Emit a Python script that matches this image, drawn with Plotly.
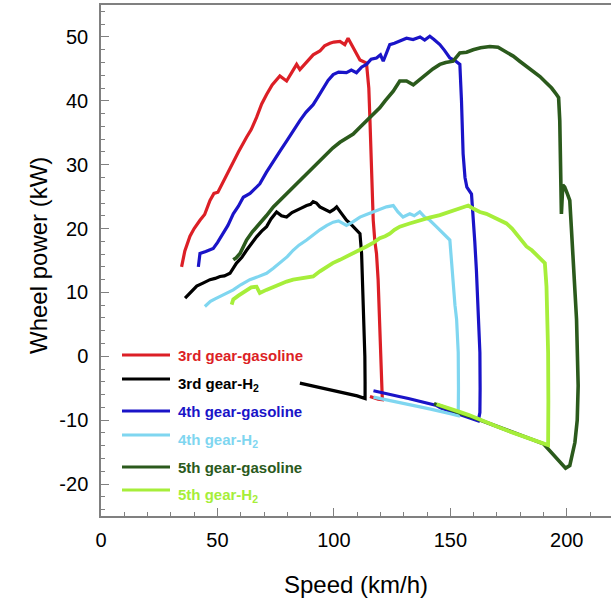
import plotly.graph_objects as go

# ---------------- data ----------------
red_speed = [34.6, 36, 38.2, 40, 42.5, 44.5, 46.8, 48.5, 50.2, 52, 54.6, 56.8, 59, 62.5, 64.5, 66.8, 69, 71.1, 73.5, 76.8,
             79.7, 82, 84.0, 85.4, 88, 91.1, 94, 96, 98.3, 100, 102.6, 104.7, 106.1, 108, 110, 111.2, 114.0, 115.0, 115.5,
             116.2, 116.9, 117.6, 118.3, 119.0, 119.6, 120.2, 120.6, 120.8, 119.0, 117.0, 115.5]
red_power = [14.0, 16.5, 18.8, 20, 21.3, 22.2, 24.4, 25.5, 25.7, 27, 28.8, 30.6, 32, 34.3, 35.5, 37.4, 39.5, 41.0, 42.5, 43.9,
             43.1, 44.5, 45.7, 44.9, 46, 47.2, 47.8, 48.6, 49.0, 49.2, 49.3, 48.8, 49.8, 48.5, 47, 46.4, 45.9, 42, 36.9,
             28, 21.3, 18, 16.1, 12, 6.3, 0, -4, -6.8, -6.7, -6.5, -6.3]

blk_speed = [36.1, 38.5, 41.1, 44, 46.8, 49, 51.1, 53, 55.4, 58.2, 60.5, 62.5, 64.5, 66.8, 69, 71.1, 73, 75.4, 77.5, 79.7,
             82, 84.0, 86, 88.3, 90, 91.1, 92.5, 94.0, 96, 98.3, 100, 101.2, 103, 105.4, 107, 108.3, 110, 111.2, 111.9,
             112.3, 112.6, 113.0, 113.3, 113.4, 113.4, 110, 105, 100, 95, 90, 85.4]
blk_power = [9.1, 10.0, 11.0, 11.5, 12.0, 12.2, 12.5, 12.6, 13.0, 14.6, 15.5, 16.6, 17.6, 18.7, 19.6, 20.3, 21.5, 22.6, 22.0,
             21.8, 22.5, 22.9, 23.2, 23.6, 23.8, 24.2, 24.0, 23.4, 23.0, 22.6, 23.0, 23.4, 22.5, 21.3, 20.8, 20.3, 19.6,
             19.2, 16.1, 12, 8.3, 5.8, 0, -4, -6.6, -6.2, -5.8, -5.3, -4.9, -4.5, -4.2]

blue_speed = [41.8, 42.5, 45, 48.2, 50, 52.5, 54.5, 56.8, 59, 61.1, 64, 66, 68.2, 71, 74.0, 77, 79.7, 82.5, 85.4, 88, 91.1,
              93, 95.4, 97.5, 99.7, 102, 105.4, 107.5, 109.7, 112, 114.0, 116, 118.3, 120, 121.2, 122.6, 124.0, 126,
              128.3, 131.2, 134, 137, 139, 141.2, 143, 145.5, 147.5, 149.8, 152, 154.1, 154.8, 155.5, 156.3, 157.1,
              159.1, 159.8, 160.5, 161.2, 161.8, 162.3, 162.7, 162.8, 162.7, 162, 158, 154, 150, 146, 144.1, 140, 136,
              132, 128, 124, 120, 117]
blue_power = [14.0, 16.1, 16.4, 16.9, 17.8, 19.2, 20.5, 22.3, 23.5, 24.9, 25.5, 26.2, 27.0, 28.8, 30.6, 32.2, 33.7, 35.3,
              36.9, 38.2, 39.4, 40.5, 42.0, 43.2, 44.1, 44.5, 44.4, 44.8, 44.4, 45.3, 45.7, 46.5, 46.7, 47.2, 46.2, 47.5,
              48.8, 49.0, 49.3, 49.8, 49.6, 50.0, 49.5, 50.1, 49.6, 48.8, 47.9, 46.7, 46.3, 45.7, 40, 31.7, 28, 26.5,
              25.4, 22, 18, 13.5, 9, 5, 0.6, -5, -8.8, -10.1, -9.6, -9.2, -8.7, -8.1, -7.7, -7.3, -6.9, -6.6, -6.3, -6.0,
              -5.7, -5.4]

lblue_speed = [44.6, 47, 49, 51.1, 54, 56.8, 60, 63.9, 67, 71.1, 74, 76.8, 80, 82.5, 85, 88.3, 91, 94.0, 97, 99.7, 102,
               105.4, 108, 111.2, 114, 116.9, 119.7, 122.6, 125.5, 127.5, 129.7, 132.6, 134.5, 136.9, 139, 141.2, 144,
               146.9, 149.8, 150.6, 151.2, 152.0, 152.7, 153.4, 153.5, 153.4, 150, 146, 142, 138, 134, 130, 126, 122,
               119.7, 117]
lblue_power = [7.8, 8.6, 9.0, 9.4, 10.0, 10.4, 11.2, 12.0, 12.4, 13.0, 13.8, 14.6, 15.6, 16.6, 17.4, 18.2, 19.0, 19.8, 20.5,
               21.0, 21.2, 20.5, 21.0, 21.8, 22.2, 22.6, 22.9, 23.4, 23.6, 22.6, 21.8, 22.3, 22.0, 22.6, 21.8, 21.3, 20.3,
               19.2, 18.2, 14.5, 10.9, 8, 5.8, 0.6, -5, -9.3, -9.0, -8.6, -8.3, -8.0, -7.7, -7.4, -7.1, -6.8, -6.7, -6.4]

dgreen_speed = [56.8, 58, 59.7, 61, 62.5, 65, 68.2, 71, 74.0, 77, 79.7, 82.5, 85.4, 88, 91.1, 94, 96.9, 99.5, 102.6,
                105.5, 108.3, 111, 114.0, 117, 119.7, 122, 125.5, 128.3, 131.2, 134.1, 137, 139.8, 142.5, 145.5, 148,
                151.2, 154.1, 157, 159.8, 163, 167.0, 170.5, 174.1, 177, 179.8, 182.5, 185.5, 188.5, 191.3, 193.5,
                195.6, 196.5, 197.0, 197.4, 197.7, 198.3, 199.1, 200.2, 201.3, 202.0, 202.7, 203.5, 204.2, 204.9,
                204.5, 203.5, 202.7, 201.3, 199.5, 197, 195, 190, 185, 180, 175, 170, 165, 160, 155, 150, 145, 143]
dgreen_power = [15.1, 15.4, 16.1, 17.0, 18.2, 19.5, 20.8, 22.0, 23.4, 24.5, 25.4, 26.5, 27.5, 28.5, 29.6, 30.6, 31.7,
                32.6, 33.5, 34.2, 34.8, 35.8, 36.9, 38.0, 38.9, 40.0, 41.5, 43.1, 43.1, 42.5, 43.4, 44.1, 45.0, 45.7,
                46.0, 46.2, 47.5, 47.6, 48.0, 48.3, 48.5, 48.4, 47.7, 47.0, 46.2, 45.5, 44.6, 43.8, 42.8, 42.0, 41.0,
                40.5, 36.9, 30, 22.3, 26.8, 26.5, 25.5, 24.4, 20, 16.1, 11, 5.8, -4.6, -10, -13.5, -15.0, -17.1, -17.5,
                -16.5, -15.5, -13.7, -13.0, -12.3, -11.7, -11.0, -10.3, -9.6, -9.0, -8.3, -7.6, -7.4]

lime_speed = [56.1, 56.8, 59, 62.5, 64.5, 66.8, 68.2, 71, 74.0, 77, 79.7, 82.5, 85.4, 88, 91.1, 94, 96.9, 99.5, 102.6,
              105.5, 108.3, 111, 114.0, 117, 119.7, 122, 124.0, 126, 128.3, 132.5, 136.9, 141, 145.5, 149, 152.7, 155,
              157.7, 160, 162.7, 165.5, 168.4, 171, 174.1, 176.5, 178.4, 180.5, 182.7, 185, 187.0, 189, 190.6, 191.0,
              191.3, 191.7, 192.0, 192.1, 192.0, 188, 184, 179.8, 175, 170, 166, 162.7, 158, 154, 150, 146, 144.1]
lime_power = [8.1, 8.9, 9.5, 10.4, 10.8, 10.9, 9.9, 10.4, 10.9, 11.4, 11.7, 12.0, 12.2, 12.4, 12.5, 13.3, 14.0, 14.6,
              15.1, 15.6, 16.1, 16.6, 17.2, 17.8, 18.5, 18.8, 19.2, 19.8, 20.3, 20.8, 21.3, 21.7, 22.1, 22.5, 22.9,
              23.2, 23.6, 23.1, 22.6, 22.3, 21.8, 21.4, 20.8, 20.0, 19.2, 18.2, 17.2, 16.6, 15.9, 15.2, 14.6, 12.5,
              10.9, 5, 0.6, -7, -13.9, -13.4, -12.9, -12.4, -11.7, -11.0, -10.4, -9.8, -9.2, -8.7, -8.2, -7.7, -7.5]

series_names = ["3rd gear-gasoline", "3rd gear-H<sub>2</sub>", "4th gear-gasoline", "4th gear-H<sub>2</sub>",
                "5th gear-gasoline", "5th gear-H<sub>2</sub>"]
series_colors = ["#dc1f26", "#000000", "#1a14c8", "#7fd6f0", "#2b5a1c", "#a6ee3a"]

x_ticks = [0, 50, 100, 150, 200]
y_ticks = [-20, -10, 0, 10, 20, 30, 40, 50]
y_tick_labels = ["-20", "-10", "0", "10", "20", "30", "40", "50"]

# ---------------- figure ----------------
W, H = 611, 601
ML, MR, MT, MB = 101, 0, 5, 85
PW, PH = W - ML - MR, H - MT - MB

fig = go.Figure()
data = [(red_speed, red_power), (blk_speed, blk_power), (blue_speed, blue_power),
        (lblue_speed, lblue_power), (dgreen_speed, dgreen_power), (lime_speed, lime_power)]
widths = [3.2, 3.2, 3.2, 3.2, 3.6, 3.8]
for (xs, ys), nm, col, w in zip(data, series_names, series_colors, widths):
    fig.add_trace(go.Scatter(x=xs, y=ys, mode="lines", name=nm,
                             line=dict(color=col, width=w), showlegend=False))

FONT = "Liberation Sans, Arial, sans-serif"


def px_x(px):
    return (px - ML) / PW


def px_y(py):
    return (H - MB - py) / PH


# custom legend
rows_py = [355, 379, 411, 435, 467, 490]
shapes = []
annotations = []
for py, nm, col in zip(rows_py, series_names, series_colors):
    shapes.append(dict(type="line", xref="paper", yref="paper",
                       x0=px_x(122), x1=px_x(170), y0=px_y(py), y1=px_y(py),
                       line=dict(color=col, width=3)))
    sub = "<sub>" in nm
    annotations.append(dict(xref="paper", yref="paper", x=px_x(176), y=px_y(py),
                            xanchor="left", yanchor="middle", showarrow=False,
                            text="<b>" + nm + "</b>", yshift=-5 if sub else 0,
                            font=dict(family=FONT, size=15, color=col)))

# axis titles
annotations.append(dict(xref="paper", yref="paper", x=0, y=0.5, xshift=23 - ML, yshift=5,
                        textangle=-90, showarrow=False, text="Wheel power (kW)",
                        font=dict(family=FONT, size=24, color="#000000")))
annotations.append(dict(xref="paper", yref="paper", x=0.5, y=0, yshift=-(584 - (H - MB)),
                        yanchor="middle", showarrow=False, text="Speed (km/h)",
                        font=dict(family=FONT, size=24, color="#000000")))

fig.update_layout(
    width=W, height=H,
    margin=dict(l=ML, r=MR, t=MT, b=MB, pad=0),
    plot_bgcolor="white", paper_bgcolor="white",
    shapes=shapes, annotations=annotations,
    xaxis=dict(range=[0, 219], tickvals=x_ticks, ticks="inside", ticklen=8, tickwidth=1.2,
               tickcolor="#808080", showline=True, linecolor="#808080", linewidth=1.5,
               mirror=True, showgrid=False, zeroline=False, automargin=False,
               minor=dict(dtick=10, ticks="inside", ticklen=4, tickcolor="#808080", showgrid=False),
               tickfont=dict(family=FONT, size=20, color="#000000"), ticklabelstandoff=5),
    yaxis=dict(range=[-25, 55], tickvals=y_ticks, ticktext=y_tick_labels, ticks="inside", ticklen=8,
               tickwidth=1.2, tickcolor="#808080", showline=True, linecolor="#808080", linewidth=1.5,
               showgrid=False, zeroline=False, automargin=False,
               minor=dict(dtick=2, ticks="inside", ticklen=4, tickcolor="#808080", showgrid=False),
               tickfont=dict(family=FONT, size=20, color="#000000"), ticklabelstandoff=7),
)

fig.write_html("out.html", config={"displayModeBar": False},
               post_script="document.body.style.margin='0';document.body.style.padding='0';"
                           "document.body.style.overflow='hidden';")
